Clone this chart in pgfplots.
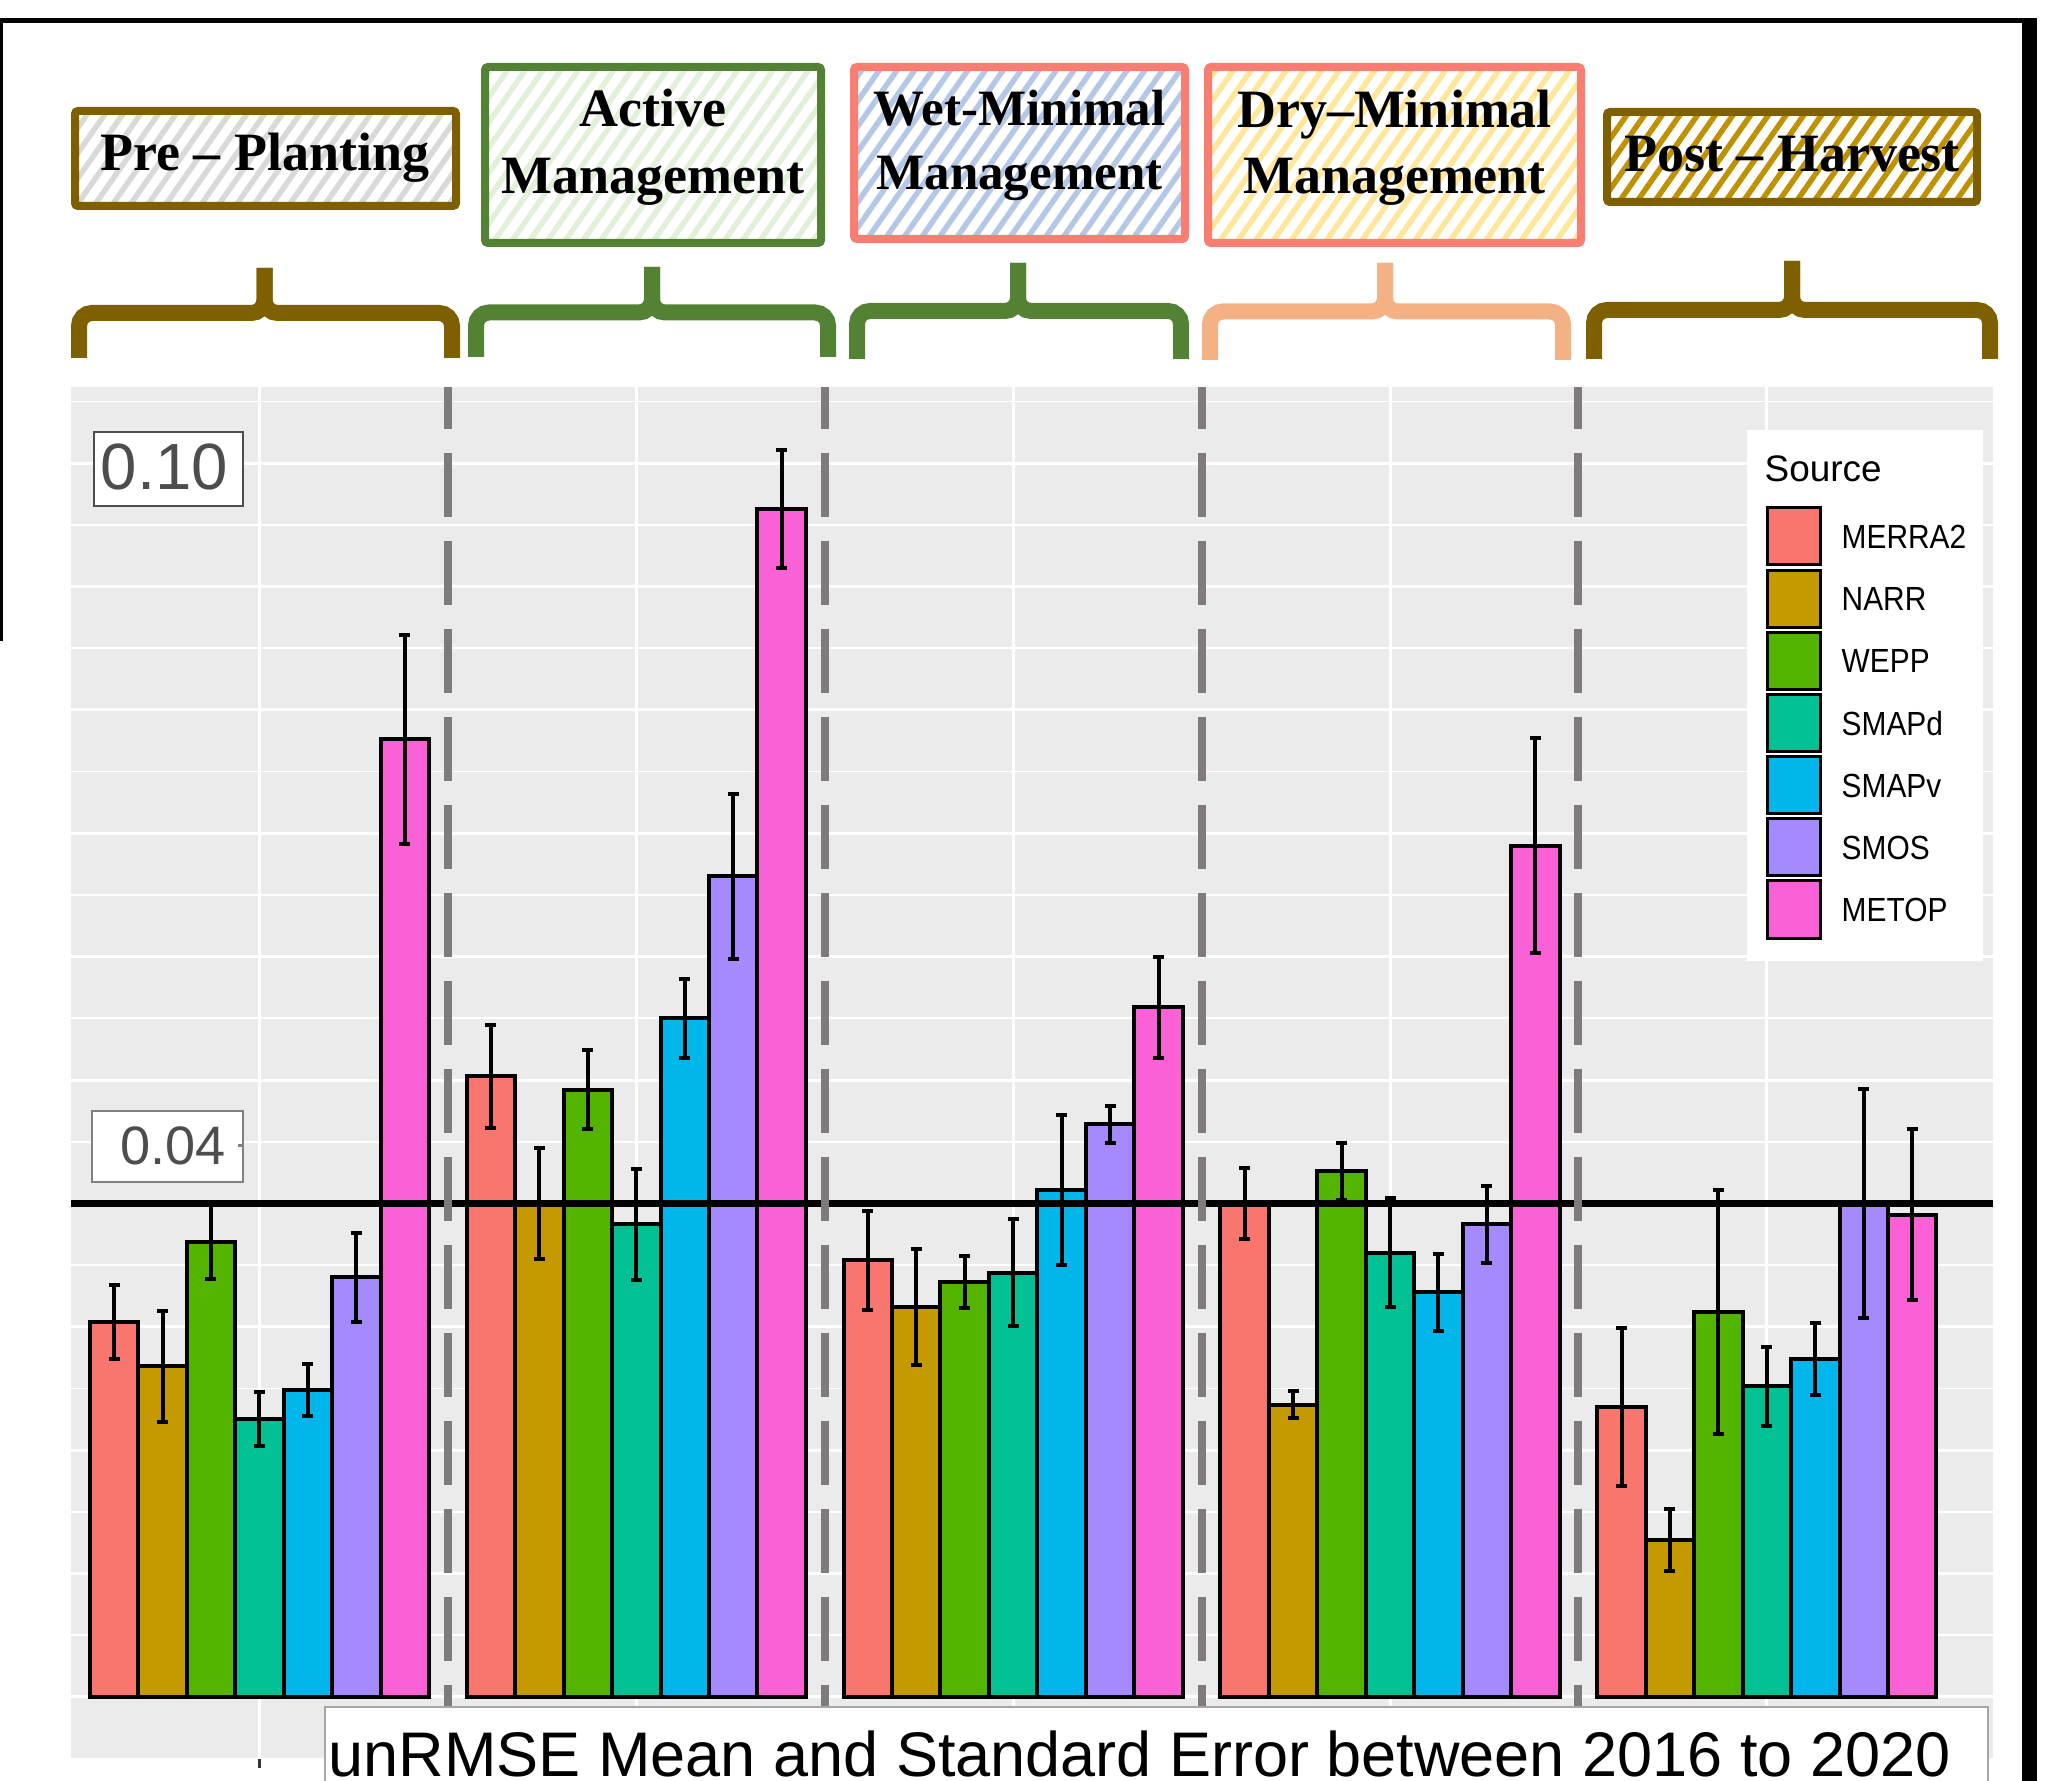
\documentclass[border=0pt]{standalone}
\usepackage{pgfplots}
\pgfplotsset{compat=1.18}
\usepackage{pgfplotstable}
\usepackage{fontspec}
\usepackage{graphicx}
\usetikzlibrary{patterns.meta}
\setmainfont{Liberation Serif}
\newfontfamily\arial{Liberation Sans}

\definecolor{cMERRA}{HTML}{F8766D}
\definecolor{cNARR}{HTML}{C49A00}
\definecolor{cWEPP}{HTML}{53B400}
\definecolor{cSMAPd}{HTML}{00C094}
\definecolor{cSMAPv}{HTML}{00B6EB}
\definecolor{cSMOS}{HTML}{A58AFF}
\definecolor{cMETOP}{HTML}{FB61D7}
\definecolor{panelbg}{HTML}{EBEBEB}
\definecolor{dashgray}{HTML}{807B7B}
\definecolor{brownB}{HTML}{7F6000}
\definecolor{greenB}{HTML}{548235}
\definecolor{salmonB}{HTML}{FA7D72}
\definecolor{peachB}{HTML}{F4B183}
\definecolor{hatchPre}{HTML}{D9D9D9}
\definecolor{hatchAct}{HTML}{E2F0D9}
\definecolor{hatchWet}{HTML}{B4C7E7}
\definecolor{hatchDry}{HTML}{FFE699}
\definecolor{hatchPost}{HTML}{BF9000}
\definecolor{labgray}{HTML}{4D4D4D}

% x: 1 Pre-Planting, 2 Active, 3 Wet-Minimal, 4 Dry-Minimal, 5 Post-Harvest
\pgfplotstableread{
x y e
1 0.0304 0.0030
2 0.0503 0.0042
3 0.0354 0.0040
4 0.0400 0.0029
5 0.0235 0.0064
}\tMERRA
\pgfplotstableread{
x y e
1 0.0268 0.0045
2 0.0400 0.0045
3 0.0316 0.0047
4 0.0237 0.0011
5 0.0127 0.0025
}\tNARR
\pgfplotstableread{
x y e
1 0.0369 0.0030
2 0.0492 0.0032
3 0.0336 0.0021
4 0.0426 0.0023
5 0.0312 0.0099
}\tWEPP
\pgfplotstableread{
x y e
1 0.0225 0.0022
2 0.0383 0.0045
3 0.0344 0.0043
4 0.0360 0.0044
5 0.0252 0.0032
}\tSMAPd
\pgfplotstableread{
x y e
1 0.0249 0.0021
2 0.0550 0.0032
3 0.0411 0.0061
4 0.0328 0.0031
5 0.0274 0.0029
}\tSMAPv
\pgfplotstableread{
x y e
1 0.0340 0.0036
2 0.0665 0.0067
3 0.0464 0.0015
4 0.0383 0.0031
5 0.0400 0.0093
}\tSMOS
\pgfplotstableread{
x y e
1 0.0776 0.0085
2 0.0963 0.0048
3 0.0559 0.0041
4 0.0690 0.0087
5 0.0391 0.0069
}\tMETOP

\pgfplotsset{
  srcbar/.style={ybar, bar width=0.128571, bar shift=0, fill=#1, draw=black, line width=0.4mm,
    error bars/.cd, y dir=both, y explicit,
    error bar style={line width=0.4mm, draw=black},
    error mark options={rotate=90, mark size=0.55mm, line width=0.4mm, draw=black}},
}
\tikzset{sepdash/.style={dashgray, line width=0.8mm, dash pattern=on 6.4mm off 2.4mm, dash phase=2.2mm}}

\begin{document}
\begin{tikzpicture}
\begin{axis}[
  at={(7.1mm,2.16mm)}, anchor=south west,
  scale only axis, width=192.2mm, height=137.24mm,
  xmin=0.5, xmax=5.6, ymin=-0.00506, ymax=0.10617,
  axis background/.style={fill=panelbg},
  axis line style={draw=none},
  xtick={1,2,3,4,5}, xticklabels={},
  ytick={0,0.01,0.02,0.03,0.04,0.05,0.06,0.07,0.08,0.09,0.10},
  minor ytick={-0.005,0.005,0.015,0.025,0.035,0.045,0.055,0.065,0.075,0.085,0.095,0.105},
  yticklabels={},
  xmajorgrids, ymajorgrids, yminorgrids,
  major grid style={white, line width=0.3mm},
  minor grid style={white, line width=0.18mm},
  xtick pos=left, tick align=outside, major tick length=0.9mm,
  xtick style={draw=black!80, line width=0.25mm},
  ytick style={draw=none},
  minor tick length=0pt,
  clip=false,
]
\addplot[srcbar=cMERRA] table[x expr=\thisrow{x}-0.385714,y=y,y error=e]{\tMERRA};
\addplot[srcbar=cNARR] table[x expr=\thisrow{x}-0.257143,y=y,y error=e]{\tNARR};
\addplot[srcbar=cWEPP] table[x expr=\thisrow{x}-0.128571,y=y,y error=e]{\tWEPP};
\addplot[srcbar=cSMAPd] table[x expr=\thisrow{x},y=y,y error=e]{\tSMAPd};
\addplot[srcbar=cSMAPv] table[x expr=\thisrow{x}+0.128571,y=y,y error=e]{\tSMAPv};
\addplot[srcbar=cSMOS] table[x expr=\thisrow{x}+0.257143,y=y,y error=e]{\tSMOS};
\addplot[srcbar=cMETOP] table[x expr=\thisrow{x}+0.385714,y=y,y error=e]{\tMETOP};
\draw[black, line width=0.77mm] (axis cs:0.5,0.04) -- (axis cs:5.6,0.04);
\draw[sepdash] (axis cs:1.5,0.10617) -- (axis cs:1.5,-0.00506);
\draw[sepdash] (axis cs:2.5,0.10617) -- (axis cs:2.5,-0.00506);
\draw[sepdash] (axis cs:3.5,0.10617) -- (axis cs:3.5,-0.00506);
\draw[sepdash] (axis cs:4.5,0.10617) -- (axis cs:4.5,-0.00506);
\end{axis}

\begin{scope}[x=0.1mm, y=-0.1mm, yshift=178.1mm]
  % frame lines
  \fill[black] (0,18) rectangle (3,641);
  \fill[black] (0,18) rectangle (2037,23.5);
  \fill[black] (2022,18) rectangle (2037,1800);

  % y labels
  \draw[fill=white, draw=labgray, line width=0.25mm] (94,432) rectangle (243,506);
  \node[anchor=base, inner sep=0, text=labgray, font={\arial\fontsize{18.6pt}{20pt}\selectfont}] at (164.5,490) {0.10};
  \draw[fill=white, draw=gray, line width=0.25mm] (92,1111) rectangle (243,1182);
  \node[anchor=base, inner sep=0, text=labgray, font={\arial\fontsize{15.4pt}{17pt}\selectfont}] at (173,1165) {0.04};
  \draw[gray, line width=0.3mm] (238,1146) -- (243,1146);

  % braces
  \begin{scope}[line width=1.6mm, rounded corners=1.3mm]
    \draw[brownB] (79,358) -- (79,313) -- (264.5,313) -- (264.5,268);
    \draw[brownB] (452,358) -- (452,313) -- (264.5,313) -- (264.5,268);
    \draw[greenB] (476,357) -- (476,312.5) -- (652,312.5) -- (652,267);
    \draw[greenB] (828,357) -- (828,312.5) -- (652,312.5) -- (652,267);
    \draw[greenB] (857,359) -- (857,311) -- (1018,311) -- (1018,263);
    \draw[greenB] (1181,359) -- (1181,311) -- (1018,311) -- (1018,263);
    \draw[peachB] (1210,360) -- (1210,311.5) -- (1385,311.5) -- (1385,263);
    \draw[peachB] (1563,360) -- (1563,311.5) -- (1385,311.5) -- (1385,263);
    \draw[brownB] (1594,359) -- (1594,310) -- (1792,310) -- (1792,261);
    \draw[brownB] (1990,359) -- (1990,310) -- (1792,310) -- (1792,261);
  \end{scope}

  % label boxes
  \foreach \xa/\ya/\xb/\yb/\hc/\bc in {75/111/456/206/hatchPre/brownB,
      485/67/821/243/hatchAct/greenB,
      854/67/1185/239/hatchWet/salmonB,
      1208/67/1581/243/hatchDry/salmonB,
      1607/112/1977/202/hatchPost/brownB}{
    \fill[white] (\xa,\ya) rectangle (\xb,\yb);
    \fill[pattern={Lines[angle=55,distance=1.45mm,line width=0.55mm]}, pattern color=\hc] (\xa,\ya) rectangle (\xb,\yb);
    \draw[\bc, line width=0.8mm, rounded corners=0.3mm] (\xa,\ya) rectangle (\xb,\yb);
  }
  \begin{scope}[every node/.style={anchor=base, inner sep=0, font={\bfseries\fontsize{15.36pt}{19pt}\selectfont}}]
    \node at (265,171) {Pre – Planting};
    \node at (653,127) {Active};
    \node at (653,194) {Management};
    \node[font={\bfseries\fontsize{14.5pt}{18pt}\selectfont}] at (1019.5,126) {Wet-Minimal};
    \node[font={\bfseries\fontsize{14.5pt}{18pt}\selectfont}] at (1019.5,190) {Management};
    \node at (1394.5,127.5) {Dry–Minimal};
    \node at (1394.5,194) {Management};
    \node at (1792,172) {Post – Harvest};
  \end{scope}

  % legend
  \fill[white] (1747,430) rectangle (1983,961);
  \node[anchor=base west, inner sep=0, font={\arial\fontsize{10.5pt}{12pt}\selectfont}] at (1764,482) {Source};
  \foreach \c/\n [count=\i from 0] in {cMERRA/MERRA2, cNARR/NARR, cWEPP/WEPP, cSMAPd/SMAPd, cSMAPv/SMAPv, cSMOS/SMOS, cMETOP/METOP}{
    \draw[fill=\c, draw=black, line width=0.3mm] (1767.2,{507.9+62.18*\i}) rectangle (1820.2,{565+62.18*\i});
    \node[anchor=base west, inner sep=0, font={\arial\fontsize{8.5pt}{10pt}\selectfont}] at (1841,{548.5+62.18*\i}) {\scalebox{1}[1.12]{\n}};
  }

  % caption box
  \draw[fill=white, draw=gray!70, line width=0.2mm] (325,1707) rectangle (1988,1800);
  \node[anchor=base west, inner sep=0, font={\arial\fontsize{17.93pt}{20pt}\selectfont}] at (328,1776) {unRMSE Mean and Standard Error between 2016 to 2020};
\end{scope}

\pgfresetboundingbox
\path[use as bounding box] (0,0) rectangle (206mm,178.1mm);
\end{tikzpicture}
\end{document}
